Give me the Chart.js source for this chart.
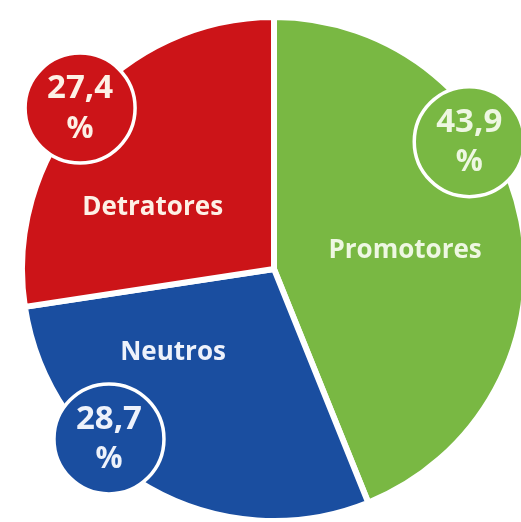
<!DOCTYPE html>
<html>
<head>
<meta charset="utf-8">
<script src="https://cdn.jsdelivr.net/npm/chart.js@4"></script>
<style>
  html, body { margin: 0; padding: 0; background: #fff; overflow: hidden; }
  #wrap { position: absolute; left: 19px; top: 14px; width: 510px; height: 510px; }
</style>
</head>
<body>
<div id="wrap"><canvas id="pie-chart" width="510" height="510"></canvas></div>
<script>
// data
var categories = ['Promotores', 'Neutros', 'Detratores'];
var percentages = [43.9, 28.7, 27.4];
var sliceColors = ['#79b843', '#1a4ea0', '#cc1418'];
var textColors = ['#eef7e2', '#eef2fb', '#fdf1e6'];

// where the labels sit, as a fraction of each slice's angle and of the radius
var nameSpot = [[0.52, 0.525], [0.70, 0.52], [0.36, 0.54]];
var bubbleSpot = [[0.36, 0.925], [0.64, 0.94], [0.49, 1.0]];

var pieLabels = {
    id: 'pieLabels',
    afterDatasetsDraw: function(chart) {
        var ctx = chart.ctx;
        var arcs = chart.getDatasetMeta(0).data;
        ctx.save();
        ctx.textAlign = 'center';
        ctx.textBaseline = 'middle';
        arcs.forEach(function(arc, i) {
            var p = arc.getProps(['x', 'y', 'startAngle', 'endAngle', 'outerRadius'], true);
            var span = p.endAngle - p.startAngle;

            // category name inside the slice
            var a = p.startAngle + span * nameSpot[i][0];
            var r = p.outerRadius * nameSpot[i][1];
            ctx.fillStyle = textColors[i];
            ctx.font = 'bold 26px "Open Sans"';
            ctx.fillText(categories[i], p.x + Math.cos(a) * r, p.y + Math.sin(a) * r);

            // value bubble
            a = p.startAngle + span * bubbleSpot[i][0];
            r = p.outerRadius * bubbleSpot[i][1];
            var bx = p.x + Math.cos(a) * r;
            var by = p.y + Math.sin(a) * r;
            ctx.beginPath();
            ctx.arc(bx, by, 55, 0, Math.PI * 2);
            ctx.fillStyle = sliceColors[i];
            ctx.fill();
            ctx.lineWidth = 3.5;
            ctx.strokeStyle = '#ffffff';
            ctx.stroke();

            ctx.fillStyle = textColors[i];
            ctx.font = 'bold 33px "Open Sans"';
            ctx.fillText(percentages[i].toFixed(1).replace('.', ','), bx, by - 19);
            ctx.font = 'bold 30px "Open Sans"';
            ctx.fillText('%', bx, by + 21);
        });
        ctx.restore();
    }
};

var ctx = document.getElementById('pie-chart').getContext('2d');
var myChart = new Chart(ctx, {
    type: 'pie',
    data: {
        labels: categories,
        datasets: [{
            data: percentages,
            backgroundColor: sliceColors,
            borderColor: '#ffffff',
            borderWidth: 6
        }]
    },
    options: {
        responsive: false,
        animation: false,
        layout: { padding: 0 },
        plugins: {
            legend: { display: false },
            tooltip: { enabled: false }
        }
    },
    plugins: [pieLabels]
});
</script>
</body>
</html>
